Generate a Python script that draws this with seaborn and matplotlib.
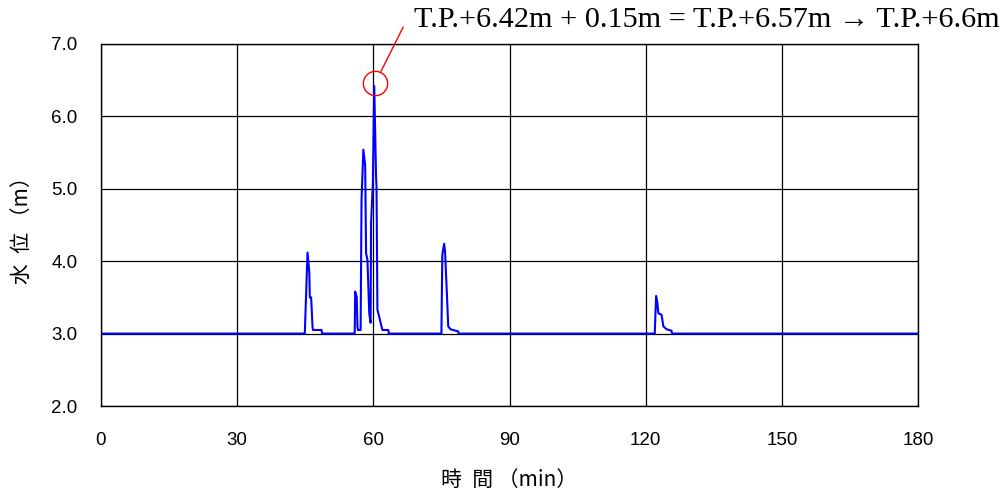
import matplotlib
matplotlib.use("Agg")
import matplotlib.pyplot as plt
import seaborn as sns
import pandas as pd
import numpy as np

# ---- data ----
time_min = [0, 44.9, 45.5, 45.9, 46.0, 46.3, 46.6, 46.7, 48.6, 48.7,
            55.9, 56.0, 56.33, 56.5, 56.6, 57.2, 57.4, 57.8, 58.2, 58.4,
            58.7, 59.1, 59.4, 59.5, 59.9, 60.2, 60.6, 60.7, 60.9, 61.3,
            61.8, 62.0, 63.3, 63.4,
            75.0, 75.2, 75.6, 75.8, 76.2, 76.5, 77.0, 78.7, 78.8,
            122.0, 122.3, 122.55, 122.8, 123.5, 123.9, 124.6, 125.7, 125.8,
            180]
level_m = [3.0, 3.0, 4.12, 3.84, 3.5, 3.5, 3.1, 3.05, 3.05, 3.0,
           3.0, 3.58, 3.51, 3.1, 3.05, 3.05, 4.85, 5.54, 5.33, 4.11,
           4.02, 3.28, 3.15, 4.53, 5.08, 6.42, 5.17, 5.03, 3.33, 3.23,
           3.1, 3.05, 3.05, 3.0,
           3.0, 4.09, 4.24, 4.13, 3.56, 3.1, 3.06, 3.03, 3.0,
           3.0, 3.52, 3.44, 3.28, 3.26, 3.1, 3.06, 3.04, 3.0,
           3.0]
x_ticks = [0, 30, 60, 90, 120, 150, 180]
y_ticks = [2.0, 3.0, 4.0, 5.0, 6.0, 7.0]
y_tick_labels = ["2.0", "3.0", "4.0", "5.0", "6.0", "7.0"]
annotation_text = "T.P.+6.42m + 0.15m = T.P.+6.57m \u2192 T.P.+6.6m"
x_label = "時\u2002間 （min）"
y_label = "水\u2002位 （m）"

df = pd.DataFrame({"t": time_min, "h": level_m})

sns.set_theme(style="white")
plt.rcParams['font.family'] = ['Liberation Sans', 'Noto Sans CJK JP', 'DejaVu Sans']

fig = plt.figure(figsize=(10.03, 4.94), dpi=100)
ax = fig.add_axes([101 / 1003, 1 - 406 / 494, (918 - 101) / 1003, (406 - 44) / 494])

sns.lineplot(data=df, x="t", y="h", ax=ax, color="#0000ff", linewidth=1.5,
             sort=False, estimator=None)

ax.set_xlim(0, 180)
ax.set_ylim(2.0, 7.0)
ax.set_xticks(x_ticks)
ax.set_yticks(y_ticks)
ax.set_yticklabels(y_tick_labels)
ax.grid(True, color="black", linewidth=0.9)
for s in ax.spines.values():
    s.set_color("black")
    s.set_linewidth(1.0)
ax.tick_params(axis="both", length=0, labelsize=13.5, colors="black")
ax.tick_params(axis="x", pad=19)
ax.tick_params(axis="y", pad=17)

cjk = ['Noto Sans CJK JP', 'DejaVu Sans']
ax.set_xlabel(x_label, fontsize=15, family=cjk, labelpad=14, color="black")
ax.set_ylabel(y_label, fontsize=15, family=cjk, labelpad=13, color="black")

# annotation on the peak
i_peak = int(np.argmax(level_m))
pt, pv = time_min[i_peak], level_m[i_peak]
ax.plot([pt + 0.2], [pv + 0.04], marker="o", markersize=17.5, markerfacecolor="none",
        markeredgecolor="red", markeredgewidth=1.0, clip_on=False)
ax.annotate("", xy=(pt + 0.2, pv + 0.04), xytext=(28, 56), textcoords="offset pixels",
            arrowprops=dict(arrowstyle="-", color="red", linewidth=1.0,
                            shrinkA=0, shrinkB=9.5), annotation_clip=False)
fig.text(414 / 1003, 1 - 20 / 494, annotation_text, fontsize=21.8,
         family=["Liberation Serif", "DejaVu Serif"], va="center", ha="left",
         color="black")

fig.savefig("out.png", dpi=100)
